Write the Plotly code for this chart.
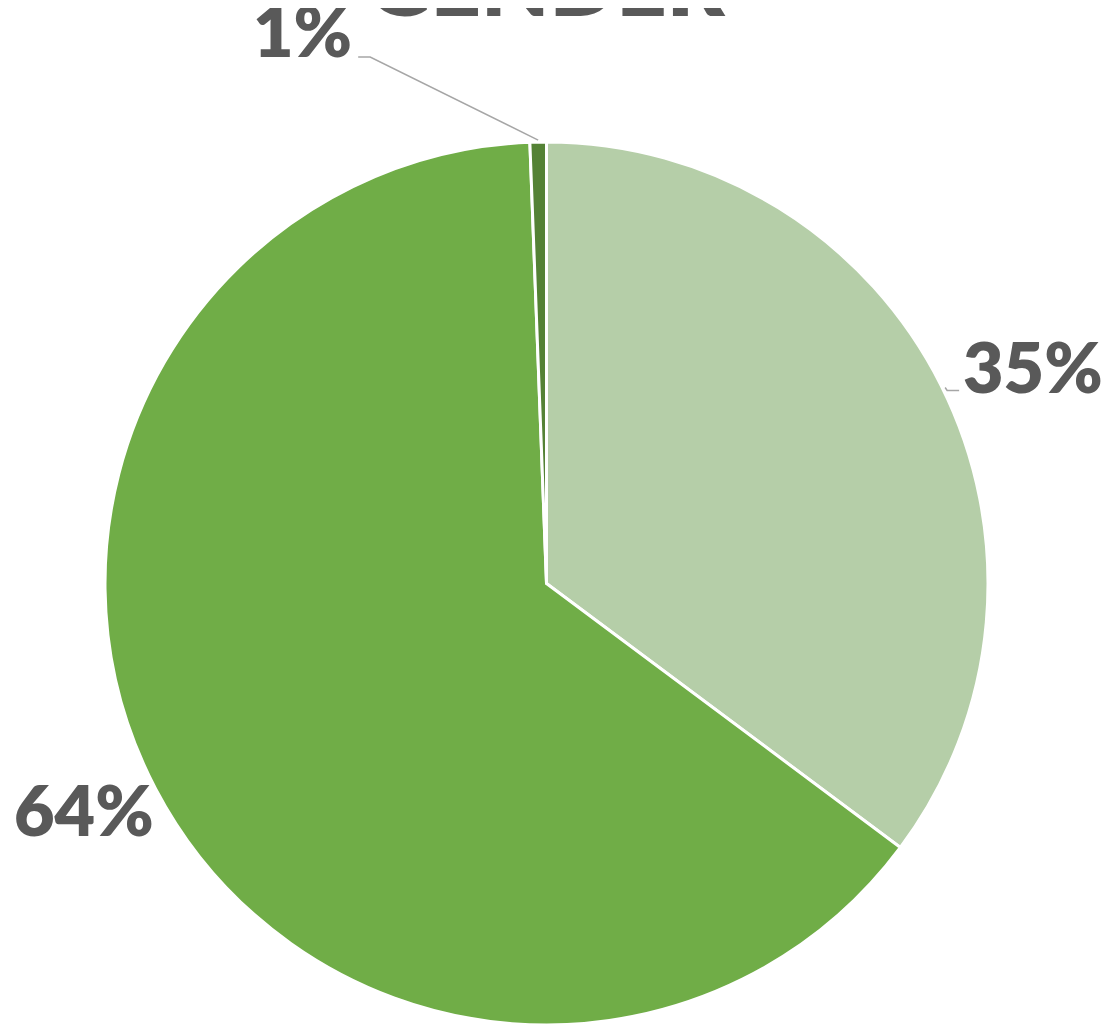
import math
import plotly.graph_objects as go

# ---- data ----
categories = ["Female", "Male", "Other"]
values = [35.2, 64.2, 0.6]
colors = ["#B5CEA8", "#70AD47", "#548235"]
title_text = "GENDER"

W, H = 1110, 1025
# pie placement (pixels, page has an 8px body margin)
cx, cy, R = 538.5, 575.5, 441.5

fig = go.Figure()
fig.add_trace(go.Pie(
    labels=categories, values=values, sort=False, direction="clockwise", rotation=0,
    marker=dict(colors=colors, line=dict(color="white", width=3)),
    textinfo="none", hoverinfo="label+percent", showlegend=False,
    domain=dict(x=[(cx - R) / W, (cx + R) / W], y=[(H - cy - R) / H, (H - cy + R) / H]),
))

# label offsets (pixels from slice mid-angle point on the rim), style only
label_offsets = [(92, -20), (-72, 20), (-236, -112)]
leader = [False, False, True]

total = sum(values)
cum = 0.0
annotations = []
shapes = []
for v, (dx, dy), ld in zip(values, label_offsets, leader):
    mid = (cum + v / 2) / total * 2 * math.pi
    cum += v
    px = cx + R * math.sin(mid)
    py = cy - R * math.cos(mid)
    xp = px / W
    yp = (H - py) / H
    txt = f"{round(v / total * 100)}%"
    annotations.append(dict(
        x=xp, y=yp, xref="paper", yref="paper", text=txt, showarrow=False,
        xshift=dx, yshift=-dy, xanchor="center", yanchor="middle",
        font=dict(family="Lato", size=70, color="#595959", weight=800),
    ))
    if ld:
        shapes.append(dict(
            type="path", xref="paper", yref="paper", xsizemode="pixel", ysizemode="pixel",
            xanchor=xp, yanchor=yp,
            path=f"M 0 2 L {dx + 68} {-dy - 27} L {dx + 56} {-dy - 27}",
            line=dict(color="#A6A6A6", width=1.5),
        ))
    else:
        if dx > 0:
            shapes.append(dict(
                type="path", xref="paper", yref="paper", xsizemode="pixel", ysizemode="pixel",
                xanchor=xp, yanchor=yp,
                path="M 4 -2 L 6 -5 L 18 -5",
                line=dict(color="#A6A6A6", width=1.5),
            ))

annotations.append(dict(
    x=cx / W, y=(H - 15) / H, xref="paper", yref="paper", text=title_text,
    showarrow=False, xanchor="center", yanchor="bottom", yshift=-14,
    font=dict(family="Lato", size=88, color="#595959", weight=800),
))

fig.update_layout(
    width=W, height=H, margin=dict(l=0, r=0, t=0, b=0),
    paper_bgcolor="white", plot_bgcolor="white",
    annotations=annotations, shapes=shapes,
)
fig.write_html("out.html")
